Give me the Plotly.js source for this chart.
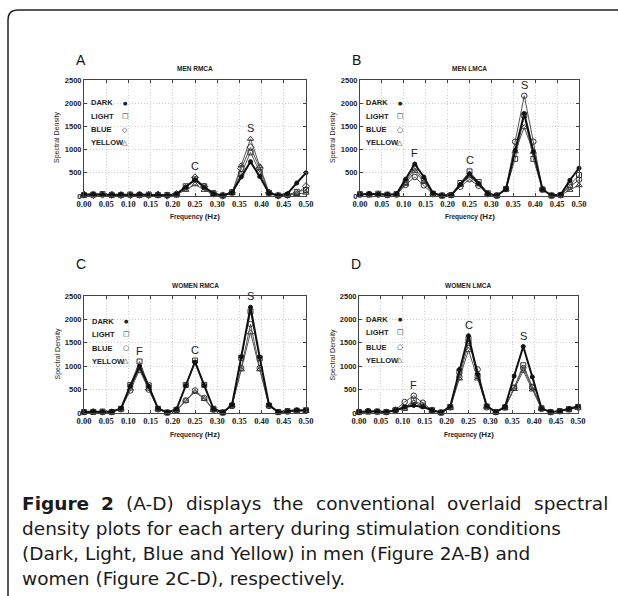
<!DOCTYPE html>
<html><head><meta charset="utf-8">
<script src="https://cdn.plot.ly/plotly-3.0.1.min.js"></script>
<style>body{margin:0;background:#fff}#chart{width:618px;height:596px}</style>
</head><body><div id="chart"></div>
<script>
// ---------------- DATA ----------------
const freq = [0, 0.0208, 0.0417, 0.0625, 0.0833, 0.1042, 0.125, 0.1458, 0.1667, 0.1875, 0.2083, 0.2292, 0.25,
              0.2708, 0.2917, 0.3125, 0.3333, 0.3542, 0.375, 0.3958, 0.4167, 0.4375, 0.4583, 0.4792, 0.5];
const seriesNames = ['DARK', 'LIGHT', 'BLUE', 'YELLOW'];
const xTickVals = [0, 0.05, 0.10, 0.15, 0.20, 0.25, 0.30, 0.35, 0.40, 0.45, 0.50];
const yTickVals = [0, 500, 1000, 1500, 2000, 2500];

// A: MEN RMCA
const menRmcaDark   = [30, 40, 30, 20, 30, 20, 30, 20, 20, 10, 40, 190, 350, 190, 50, 10, 70, 410, 740, 420, 60, 10, 50, 280, 500];
const menRmcaLight  = [20, 30, 40, 20, 20, 30, 20, 30, 20, 20, 30, 210, 360, 210, 60, 10, 80, 480, 940, 520, 70, 10, 20, 90, 130];
const menRmcaBlue   = [30, 20, 30, 30, 20, 20, 30, 20, 30, 10, 40, 170, 400, 200, 50, 10, 70, 590, 1050, 600, 70, 10, 20, 60, 210];
const menRmcaYellow = [20, 30, 20, 20, 30, 20, 20, 20, 20, 20, 30, 130, 250, 130, 40, 10, 60, 660, 1230, 640, 80, 10, 20, 40, 70];
// B: MEN LMCA
const menLmcaDark   = [30, 50, 40, 30, 40, 360, 690, 410, 60, 10, 20, 250, 480, 270, 50, 10, 150, 980, 1780, 960, 140, 10, 30, 340, 600];
const menLmcaLight  = [40, 30, 50, 30, 40, 300, 610, 330, 50, 10, 20, 280, 530, 300, 60, 10, 150, 800, 1740, 800, 140, 10, 20, 240, 450];
const menLmcaBlue   = [30, 40, 30, 20, 30, 240, 410, 230, 40, 10, 20, 200, 360, 220, 40, 10, 150, 1170, 2160, 1170, 140, 10, 20, 200, 350];
const menLmcaYellow = [30, 40, 40, 30, 30, 260, 540, 300, 50, 10, 20, 240, 420, 250, 50, 10, 150, 960, 1480, 950, 150, 10, 20, 130, 230];
// C: WOMEN RMCA
const womenRmcaDark   = [20, 30, 20, 30, 100, 580, 1000, 570, 100, 10, 80, 590, 1090, 590, 90, 10, 170, 1200, 2260, 1190, 170, 20, 40, 60, 60];
const womenRmcaLight  = [20, 20, 30, 20, 90, 600, 1100, 590, 90, 10, 70, 600, 1120, 600, 90, 10, 160, 1180, 2170, 1170, 160, 20, 40, 50, 60];
const womenRmcaBlue   = [20, 30, 20, 20, 80, 480, 920, 500, 80, 10, 60, 270, 480, 320, 70, 10, 150, 960, 1900, 960, 150, 20, 30, 50, 50];
const womenRmcaYellow = [20, 20, 20, 30, 90, 520, 960, 520, 90, 10, 50, 260, 450, 300, 60, 10, 160, 930, 1720, 930, 160, 20, 30, 50, 40];
// D: WOMEN LMCA
const womenLmcaDark   = [20, 40, 30, 20, 60, 130, 160, 130, 60, 10, 140, 930, 1650, 830, 150, 20, 130, 790, 1420, 770, 100, 20, 40, 90, 140];
const womenLmcaLight  = [20, 30, 30, 20, 60, 110, 270, 160, 60, 10, 130, 880, 1580, 790, 140, 20, 120, 540, 1020, 560, 100, 20, 40, 80, 130];
const womenLmcaBlue   = [20, 40, 30, 20, 70, 235, 370, 220, 60, 10, 120, 770, 1500, 930, 120, 20, 120, 540, 960, 540, 90, 20, 40, 80, 120];
const womenLmcaYellow = [20, 30, 30, 20, 60, 90, 230, 140, 50, 10, 110, 735, 1340, 735, 130, 20, 110, 510, 900, 500, 90, 20, 40, 70, 110];

const captionLines = [
  'density plots for each artery during stimulation conditions',
  '(Dark, Light, Blue and Yellow) in men (Figure 2A-B) and',
  'women (Figure 2C-D), respectively.'
];

// ---------------- LAYOUT HELPERS ----------------
const W = 618, H = 596;
const px = v => v / W;
const py = v => 1 - v / H;

const panels = [
  {suf: '', letter: 'A', title: 'MEN RMCA', xd: [84, 306], yd: [80, 196], letterY: 60, titleY: 69,
   data: [menRmcaDark, menRmcaLight, menRmcaBlue, menRmcaYellow], blueSym: 'diamond-open', blueGlyph: '◇',
   leg: {tx: 89, sx: 125, rows: [103, 116, 130, 143]}, peaks: [['C', 12], ['S', 18]]},
  {suf: '2', letter: 'B', title: 'MEN LMCA', xd: [360, 579], yd: [80, 196], letterY: 60, titleY: 69,
   data: [menLmcaDark, menLmcaLight, menLmcaBlue, menLmcaYellow], blueSym: 'circle-open', blueGlyph: '○',
   leg: {tx: 364, sx: 400, rows: [103, 116, 130, 143]}, peaks: [['F', 6], ['C', 12], ['S', 18]]},
  {suf: '3', letter: 'C', title: 'WOMEN RMCA', xd: [84, 306], yd: [296, 413], letterY: 264, titleY: 285,
   data: [womenRmcaDark, womenRmcaLight, womenRmcaBlue, womenRmcaYellow], blueSym: 'circle-open', blueGlyph: '○',
   leg: {tx: 90, sx: 126, rows: [321, 334, 348, 361]}, peaks: [['F', 6], ['C', 12], ['S', 18]]},
  {suf: '4', letter: 'D', title: 'WOMEN LMCA', xd: [359, 578], yd: [296, 413], letterY: 264, titleY: 285,
   data: [womenLmcaDark, womenLmcaLight, womenLmcaBlue, womenLmcaYellow], blueSym: 'circle-open', blueGlyph: '○',
   leg: {tx: 364, sx: 400, rows: [319, 332, 347, 360]}, peaks: [['F', 6], ['C', 12], ['S', 18]]}
];

const traces = [];
const annotations = [];
const layout = {
  width: W, height: H, margin: {l: 0, r: 0, t: 0, b: 0},
  paper_bgcolor: '#fff', plot_bgcolor: '#fff', showlegend: false,
  font: {family: 'Liberation Sans, Arial, sans-serif', color: '#222'},
  annotations: annotations, shapes: []
};

const drawOrder = [3, 2, 1, 0];
panels.forEach(p => {
  const styles = [
    {line: {color: '#111', width: 2}, marker: {symbol: 'circle', size: 4, color: '#111', line: {color: '#111', width: 1}}},
    {line: {color: '#555', width: 1}, marker: {symbol: 'square-open', size: 5, color: '#333', line: {color: '#333', width: 1}}},
    {line: {color: '#555', width: 1}, marker: {symbol: p.blueSym, size: 5.5, color: '#333', line: {color: '#333', width: 1}}},
    {line: {color: '#555', width: 1}, marker: {symbol: 'triangle-up-open', size: 5.5, color: '#333', line: {color: '#333', width: 1}}}
  ];
  drawOrder.forEach(i => {
    traces.push({
      type: 'scatter', mode: 'lines+markers', name: seriesNames[i],
      x: freq, y: p.data[i], xaxis: 'x' + p.suf, yaxis: 'y' + p.suf,
      line: styles[i].line, marker: styles[i].marker, hoverinfo: 'skip', cliponaxis: false
    });
  });
  layout['xaxis' + p.suf] = {
    domain: [px(p.xd[0]), px(p.xd[1])], anchor: 'y' + p.suf, range: [0, 0.5],
    tickvals: xTickVals, tickformat: '.2f', ticks: 'inside', ticklen: 3, tickcolor: '#444',
    showline: true, linecolor: '#444', linewidth: 1, mirror: 'ticks',
    showgrid: true, gridcolor: '#cfcfcf', griddash: '1px,2px', gridwidth: 1, zeroline: false,
    tickfont: {family: 'Liberation Serif, serif', size: 8.5, weight: 'bold', color: '#222'}, fixedrange: true
  };
  layout['yaxis' + p.suf] = {
    domain: [py(p.yd[1]), py(p.yd[0])], anchor: 'x' + p.suf, range: [0, 2500],
    tickvals: yTickVals, ticks: 'inside', ticklen: 3, tickcolor: '#444',
    showline: true, linecolor: '#444', linewidth: 1, mirror: 'ticks',
    showgrid: true, gridcolor: '#cfcfcf', griddash: '1px,2px', gridwidth: 1, zeroline: false,
    tickfont: {family: 'Liberation Sans, Arial, sans-serif', size: 7.5, weight: 'bold', color: '#222'}, fixedrange: true
  };
  const cx = (p.xd[0] + p.xd[1]) / 2, cy = (p.yd[0] + p.yd[1]) / 2;
  annotations.push({xref: 'paper', yref: 'paper', x: px(p.xd[0] - 10), y: py(p.letterY), xanchor: 'left', yanchor: 'middle',
    text: p.letter, showarrow: false, font: {family: 'Liberation Sans, Arial', size: 14, color: '#111'}});
  annotations.push({xref: 'paper', yref: 'paper', x: px(cx), y: py(p.titleY), xanchor: 'center', yanchor: 'middle',
    text: p.title, showarrow: false, font: {family: 'Liberation Sans, Arial', size: 6.5, weight: 'bold', color: '#222'}});
  annotations.push({xref: 'paper', yref: 'paper', x: px(cx), y: py(p.yd[1] + 21), xanchor: 'center', yanchor: 'middle',
    text: 'Frequency <span style="font-size:8px">(Hz)</span>', showarrow: false,
    font: {family: 'Liberation Sans, Arial', size: 6.5, weight: 'bold', color: '#222'}});
  annotations.push({xref: 'paper', yref: 'paper', x: px(p.xd[0] - 27), y: py(cy), xanchor: 'center', yanchor: 'middle',
    text: 'Spectral Density', textangle: -90, showarrow: false,
    font: {family: 'Liberation Sans, Arial', size: 7, color: '#222'}});
  const glyphs = ['●', '□', p.blueGlyph, '△'];
  seriesNames.forEach((n, i) => {
    annotations.push({xref: 'paper', yref: 'paper', x: px(p.leg.tx), y: py(p.leg.rows[i]), xanchor: 'left', yanchor: 'middle',
      text: n, showarrow: false, font: {family: 'Liberation Sans, Arial', size: 7.5, weight: 'bold', color: '#222'}});
    annotations.push({xref: 'paper', yref: 'paper', x: px(p.leg.sx), y: py(p.leg.rows[i]), xanchor: 'center', yanchor: 'middle',
      text: glyphs[i], showarrow: false, font: {family: 'DejaVu Sans', size: i === 0 ? 5 : 7, color: '#222'}});
  });
  p.peaks.forEach(([lab, idx]) => {
    const top = Math.max(...p.data.map(s => s[idx]));
    annotations.push({xref: 'x' + p.suf, yref: 'y' + p.suf, x: freq[idx], y: top, xanchor: 'center', yanchor: 'bottom',
      yshift: 3, text: lab, showarrow: false, font: {family: 'Liberation Sans, Arial', size: 11, color: '#222'}});
  });
});

layout.shapes.push({type: 'path', xref: 'paper', yref: 'paper',
  path: `M ${px(8)},${py(596)} L ${px(8)},${py(20)} Q ${px(8)},${py(10)} ${px(18)},${py(10)} L ${px(618)},${py(10)}`,
  line: {color: '#222', width: 1.5}});

// caption
const capSize = 18.5;
const capFam = 'DejaVu Sans';
const ctx = document.createElement('canvas').getContext('2d');
const line1 = [['Figure', true], ['2', true], ['(A-D)', false], ['displays', false], ['the', false], ['conventional', false],
               ['overlaid', false], ['spectral', false]];
const widths = line1.map(([w, b]) => { ctx.font = `${b ? 'bold ' : ''}${capSize}px "${capFam}"`; return ctx.measureText(w).width; });
const left = 20, right = 606;
const gap = (right - left - widths.reduce((a, b) => a + b, 0)) / (line1.length - 1);
let xc = left;
line1.forEach(([w, b], i) => {
  annotations.push({xref: 'paper', yref: 'paper', x: px(xc), y: py(503), xanchor: 'left', yanchor: 'middle',
    text: b ? `<b>${w}</b>` : w, showarrow: false, font: {family: capFam, size: capSize, color: '#1a1a1a'}});
  xc += widths[i] + gap;
});
captionLines.forEach((t, i) => {
  annotations.push({xref: 'paper', yref: 'paper', x: px(left), y: py(528 + 25 * i), xanchor: 'left', yanchor: 'middle',
    text: t, showarrow: false, font: {family: capFam, size: capSize, color: '#1a1a1a'}});
});

Plotly.newPlot('chart', traces, layout, {staticPlot: true, displayModeBar: false});
</script>
</body></html>
